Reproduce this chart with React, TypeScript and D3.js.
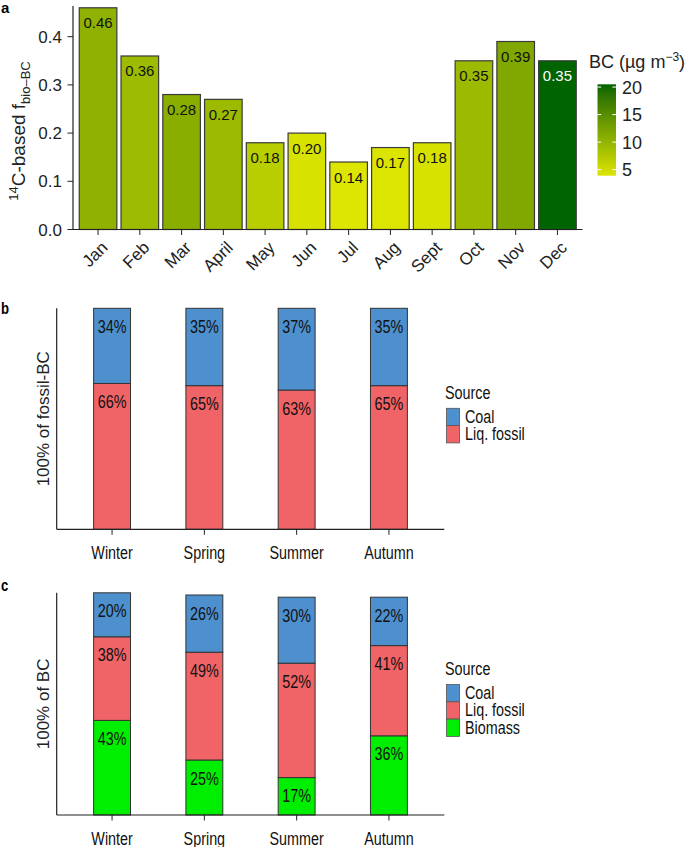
import { useEffect, useRef } from 'react';
import * as d3 from 'd3';

// Panel a: monthly 14C-based fraction of biomass BC, bar fill = BC concentration
const months = ['Jan', 'Feb', 'Mar', 'April', 'May', 'Jun', 'Jul', 'Aug', 'Sept', 'Oct', 'Nov', 'Dec'];
const fBio = [0.46, 0.36, 0.28, 0.27, 0.18, 0.2, 0.14, 0.17, 0.18, 0.35, 0.39, 0.35];
const bcConc = [10.4, 9.2, 10.9, 9.3, 6.9, 4.4, 3.9, 4.0, 4.4, 9.3, 11.6, 20.5];
const fTicks = [0, 0.1, 0.2, 0.3, 0.4];
const bcTicks = [5, 10, 15, 20];

// Panels b and c: seasonal source shares (%)
const seasons = ['Winter', 'Spring', 'Summer', 'Autumn'];
const fossilCoal = [34, 35, 37, 35];
const fossilLiq = [66, 65, 63, 65];
const bcCoal = [20, 26, 30, 22];
const bcLiq = [38, 49, 52, 41];
const bcBiomass = [43, 25, 17, 36];

const sourceColors: Record<string, string> = {
  Coal: '#4d90cd',
  'Liq. fossil': '#f06366',
  Biomass: '#00ee00'
};

const FONT = '"Liberation Sans", Arial, Helvetica, sans-serif';
const NARROW = 0.82;

interface StackPanel {
  top: number;
  bottom: number;
  letter: string;
  title: string;
  keys: string[]; // bottom to top
  values: Record<string, number[]>;
  yMax: number;
  legendTop: number;
}

export default function App() {
  const svgRef = useRef<SVGSVGElement>(null);

  useEffect(() => {
    if (!svgRef.current) return;
    const svg = d3.select(svgRef.current);
    svg.selectAll('*').remove();

    // ---------- panel a ----------
    const a = svg.append('g');
    const x = d3.scaleBand().domain(months).range([73, 582.5]).paddingInner(0.1).paddingOuter(0.15);
    const y = d3.scaleLinear().domain([0, 0.4]).range([229.5, 36.7]);
    const fill = d3
      .scaleLinear<string>()
      .domain([d3.min(bcConc)!, d3.max(bcConc)!])
      .range(['#dde600', '#006400'])
      .interpolate(d3.interpolateLab);

    const rows = months.map((m, i) => ({ m, f: fBio[i], bc: bcConc[i] }));

    a.selectAll('.bar')
      .data(rows)
      .enter()
      .append('rect')
      .attr('x', (d) => x(d.m)!)
      .attr('y', (d) => y(d.f))
      .attr('width', x.bandwidth())
      .attr('height', (d) => y(0) - y(d.f))
      .style('fill', (d) => fill(d.bc))
      .style('stroke', '#3a3a3a')
      .style('stroke-width', 1.2);

    a.selectAll('.lab')
      .data(rows)
      .enter()
      .append('text')
      .attr('x', (d) => x(d.m)! + x.bandwidth() / 2)
      .attr('y', (d) => y(d.f) + 20.5)
      .attr('text-anchor', 'middle')
      .style('font-family', FONT)
      .style('font-size', '15px')
      .style('fill', (d) => (d.bc > 15 ? '#ffffff' : '#111'))
      .text((d) => d.f.toFixed(2));

    // axes
    a.append('line').attr('x1', 73).attr('x2', 73).attr('y1', 6).attr('y2', y(0)).style('stroke', '#222').style('stroke-width', 1.2);
    a.append('line').attr('x1', 73).attr('x2', 582.5).attr('y1', y(0)).attr('y2', y(0)).style('stroke', '#222').style('stroke-width', 1.2);

    fTicks.forEach((t) => {
      a.append('line').attr('x1', 67.5).attr('x2', 73).attr('y1', y(t)).attr('y2', y(t)).style('stroke', '#222');
      a.append('text')
        .attr('x', 62)
        .attr('y', y(t) + 6)
        .attr('text-anchor', 'end')
        .style('font-family', FONT)
        .style('font-size', '17px')
        .style('fill', '#222')
        .text(t.toFixed(1));
    });

    months.forEach((m) => {
      const cx = x(m)! + x.bandwidth() / 2;
      a.append('line').attr('x1', cx).attr('x2', cx).attr('y1', y(0)).attr('y2', y(0) + 5.5).style('stroke', '#222');
      a.append('text')
        .attr('transform', `translate(${cx + 2},${240}) rotate(-45)`)
        .attr('dy', '0.72em')
        .attr('text-anchor', 'end')
        .style('font-family', FONT)
        .style('font-size', '17px')
        .style('fill', '#222')
        .text(m);
    });

    const yTitle = a
      .append('text')
      .attr('transform', 'translate(25,131) rotate(-90)')
      .attr('text-anchor', 'middle')
      .style('font-family', FONT)
      .style('font-size', '19px')
      .style('fill', '#222');
    yTitle.append('tspan').attr('dy', -7).style('font-size', '13px').text('14');
    yTitle.append('tspan').attr('dy', 7).text('C-based f');
    yTitle.append('tspan').attr('dy', 5).style('font-size', '13px').text('bio–BC');

    a.append('text').attr('x', 1).attr('y', 13).style('font-family', FONT).style('font-weight', 'bold').style('font-size', '15px').text('a');

    // colour bar legend
    const cb = { x: 597.5, w: 18.5, top: 84.3, bottom: 175.7 };
    const cbScale = d3.scaleLinear().domain([d3.min(bcConc)!, d3.max(bcConc)!]).range([cb.bottom, cb.top]);
    const defs = svg.append('defs');
    const grad = defs.append('linearGradient').attr('id', 'bcgrad').attr('x1', 0).attr('x2', 0).attr('y1', 1).attr('y2', 0);
    d3.range(0, 1.0001, 0.1).forEach((p) => {
      grad.append('stop').attr('offset', p).attr('stop-color', fill(fill.domain()[0] + p * (fill.domain()[1] - fill.domain()[0])));
    });
    a.append('rect').attr('x', cb.x).attr('y', cb.top).attr('width', cb.w).attr('height', cb.bottom - cb.top).style('fill', 'url(#bcgrad)');
    bcTicks.forEach((t) => {
      const ty = cbScale(t);
      a.append('line').attr('x1', cb.x).attr('x2', cb.x + 3.7).attr('y1', ty).attr('y2', ty).style('stroke', '#fff').style('stroke-width', 1);
      a.append('line').attr('x1', cb.x + cb.w - 3.7).attr('x2', cb.x + cb.w).attr('y1', ty).attr('y2', ty).style('stroke', '#fff').style('stroke-width', 1);
      a.append('text')
        .attr('x', 622)
        .attr('y', ty + 6.5)
        .style('font-family', FONT)
        .style('font-size', '18px')
        .style('fill', '#222')
        .text(String(t));
    });
    const lt = a.append('text').attr('x', 589).attr('y', 68).style('font-family', FONT).style('font-size', '18px').style('fill', '#222');
    lt.append('tspan').text('BC (µg m');
    lt.append('tspan').attr('dy', -7).style('font-size', '12px').text('−3');
    lt.append('tspan').attr('dy', 7).text(')');

    // ---------- panels b and c ----------
    const panels: StackPanel[] = [
      {
        top: 308.3,
        bottom: 529.3,
        letter: 'b',
        title: '100% of fossil-BC',
        keys: ['Liq. fossil', 'Coal'],
        values: { Coal: fossilCoal, 'Liq. fossil': fossilLiq },
        yMax: 100,
        legendTop: 408.3
      },
      {
        top: 592.8,
        bottom: 815,
        letter: 'c',
        title: '100% of BC',
        keys: ['Biomass', 'Liq. fossil', 'Coal'],
        values: { Coal: bcCoal, 'Liq. fossil': bcLiq, Biomass: bcBiomass },
        yMax: 101,
        legendTop: 684.5
      }
    ];

    const xs = d3.scaleBand().domain(seasons).range([56.7, 444.3]).paddingInner(0.6).paddingOuter(0.4);

    const narrowText = (g: d3.Selection<SVGGElement, unknown, null, undefined>, tx: number, ty: number, s: string, size: number, anchor = 'middle') =>
      g
        .append('text')
        .attr('transform', `translate(${tx},${ty}) scale(${NARROW},1)`)
        .attr('text-anchor', anchor)
        .style('font-family', FONT)
        .style('font-size', `${size}px`)
        .style('fill', '#111')
        .text(s);

    panels.forEach((p) => {
      const g = svg.append('g');
      const ys = d3.scaleLinear().domain([0, p.yMax]).range([p.bottom, p.top]);
      const table = seasons.map((s, i) => {
        const row: Record<string, number | string> = { season: s };
        p.keys.forEach((k) => (row[k] = p.values[k][i]));
        return row;
      });
      const stacked = d3.stack<Record<string, number | string>>().keys(p.keys)(table as any);

      stacked.forEach((layer) => {
        g.selectAll(null)
          .data(layer)
          .enter()
          .append('rect')
          .attr('x', (d) => xs(d.data.season as string)!)
          .attr('y', (d) => ys(d[1]))
          .attr('width', xs.bandwidth())
          .attr('height', (d) => ys(d[0]) - ys(d[1]))
          .style('fill', sourceColors[layer.key])
          .style('stroke', '#333')
          .style('stroke-width', 1);
      });

      stacked.forEach((layer) => {
        layer.forEach((d) => {
          const cx = xs(d.data.season as string)! + xs.bandwidth() / 2;
          narrowText(g, cx, ys(d[1]) + 24.5, `${d[1] - d[0]}%`, 17.5);
        });
      });

      g.append('line').attr('x1', 56.7).attr('x2', 56.7).attr('y1', p.top).attr('y2', p.bottom).style('stroke', '#222').style('stroke-width', 1.2);
      g.append('line').attr('x1', 56.7).attr('x2', 444.3).attr('y1', p.bottom).attr('y2', p.bottom).style('stroke', '#222').style('stroke-width', 1.2);
      seasons.forEach((s) => {
        const cx = xs(s)! + xs.bandwidth() / 2;
        g.append('line').attr('x1', cx).attr('x2', cx).attr('y1', p.bottom).attr('y2', p.bottom + 5.5).style('stroke', '#222');
        narrowText(g, cx, p.bottom + 29.5, s, 17.5);
      });

      g.append('text')
        .attr('transform', `translate(49,${(p.top + p.bottom) / 2}) rotate(-90)`)
        .attr('text-anchor', 'middle')
        .style('font-family', FONT)
        .style('font-size', '17px')
        .style('fill', '#222')
        .text(p.title);

      g.append('text')
        .attr('transform', `translate(1,${p.top + (p.letter === 'b' ? 6 : -2)}) scale(${NARROW},1)`)
        .style('font-family', FONT)
        .style('font-weight', 'bold')
        .style('font-size', '16px')
        .text(p.letter);

      // legend, top to bottom
      narrowText(g, 445, p.legendTop - 9.5, 'Source', 17.5, 'start');
      const legendKeys = [...p.keys].reverse();
      legendKeys.forEach((k, i) => {
        const ky = p.legendTop + i * 17.3;
        g.append('rect')
          .attr('x', 446.5)
          .attr('y', ky)
          .attr('width', 13)
          .attr('height', 17.3)
          .style('fill', sourceColors[k])
          .style('stroke', '#555')
          .style('stroke-width', 0.8);
        narrowText(g, 465, ky + 14.5, k, 17.5, 'start');
      });
    });
  }, []);

  return <svg ref={svgRef} width={685} height={847} style={{ position: 'absolute', left: 0, top: 0, background: '#fff' }} />;
}
